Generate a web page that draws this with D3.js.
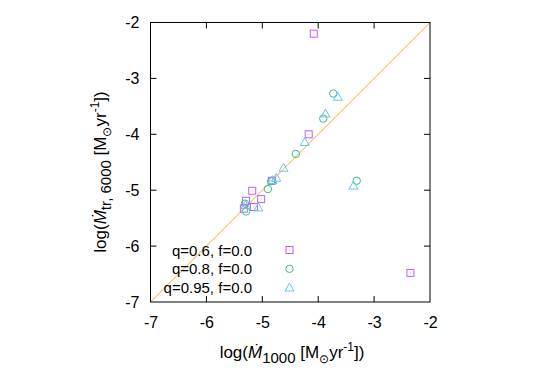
<!DOCTYPE html>
<html><head><meta charset="utf-8">
<script src="https://cdn.jsdelivr.net/npm/d3@7"></script>
<style>body{margin:0;background:#fff}svg{display:block}text{font-family:"Liberation Sans",Arial,sans-serif}</style>
</head><body><svg id="c" width="545" height="382"></svg>
<script>
const xTicks = [-7, -6, -5, -4, -3, -2];
const yTicks = [-7, -6, -5, -4, -3, -2];
const seriesLabels = ["q=0.6, f=0.0", "q=0.8, f=0.0", "q=0.95, f=0.0"];
const q06x = [-4.08, -4.17, -4.83, -5.18, -5.02, -5.29, -5.15, -5.33, -2.35];
const q06y = [-2.20, -4.00, -4.83, -5.01, -5.16, -5.19, -5.30, -5.33, -6.48];
const q08x = [-3.73, -3.91, -4.40, -4.90, -4.84, -3.31, -5.31, -5.29];
const q08y = [-3.27, -3.72, -4.35, -4.98, -4.84, -4.83, -5.24, -5.38];
const q095x = [-3.65, -3.87, -4.24, -4.62, -4.75, -4.82, -3.37, -5.07, -5.30];
const q095y = [-3.33, -3.63, -4.14, -4.60, -4.78, -4.82, -4.92, -5.31, -5.27];

const svg = d3.select("#c");
const L = 150.5, R = 430, T = 22.5, B = 302;
const x = d3.scaleLinear().domain([-7, -2]).range([L, R]);
const y = d3.scaleLinear().domain([-7, -2]).range([B, T]);
const fmt = d => (d < 0 ? "-" : "") + Math.abs(d);

const tl = 6;
const bx = d3.axisBottom(x).tickValues(xTicks).tickSize(0).tickPadding(15).tickFormat(fmt);
const gx = svg.append("g").attr("transform", `translate(0,${B})`).call(bx);
gx.select(".domain").remove();
gx.selectAll("text").attr("font-size", 16).attr("fill", "#000");
const ly = d3.axisLeft(y).tickValues(yTicks).tickSize(0).tickPadding(11).tickFormat(fmt);
const gy = svg.append("g").attr("transform", `translate(${L},0)`).call(ly);
gy.select(".domain").remove();
gy.selectAll("text").attr("font-size", 16).attr("fill", "#000");

const tk = svg.append("g").attr("stroke", "#000").attr("stroke-width", 1);
xTicks.slice(1, -1).forEach(v => {
  tk.append("line").attr("x1", x(v)).attr("x2", x(v)).attr("y1", B).attr("y2", B - tl);
  tk.append("line").attr("x1", x(v)).attr("x2", x(v)).attr("y1", T).attr("y2", T + tl);
});
yTicks.slice(1, -1).forEach(v => {
  tk.append("line").attr("y1", y(v)).attr("y2", y(v)).attr("x1", L).attr("x2", L + tl);
  tk.append("line").attr("y1", y(v)).attr("y2", y(v)).attr("x1", R).attr("x2", R - tl);
});

svg.append("line").attr("x1", x(-7)).attr("y1", y(-7)).attr("x2", x(-2)).attr("y2", y(-2))
  .attr("stroke", "#f4aa22").attr("stroke-width", 1);

const colors = ["#c05ff0", "#35bf8f", "#66c3f0"];
const sq = 7, cr = 3.7;
function square(g, cx, cy, c) {
  g.append("rect").attr("x", cx - sq / 2).attr("y", cy - sq / 2).attr("width", sq).attr("height", sq)
    .attr("fill", "none").attr("stroke", c).attr("stroke-width", 1);
  g.append("rect").attr("x", cx - 0.5).attr("y", cy - 0.5).attr("width", 1).attr("height", 1).attr("fill", c).attr("opacity", 0.6);
}
function circle(g, cx, cy, c) {
  g.append("circle").attr("cx", cx).attr("cy", cy).attr("r", cr).attr("fill", "none").attr("stroke", c).attr("stroke-width", 1);
}
function tri(g, cx, cy, c) {
  const h = 4.5;
  g.append("path").attr("d", `M${cx},${cy - h}L${cx + h},${cy + h * 0.75}L${cx - h},${cy + h * 0.75}Z`)
    .attr("fill", "none").attr("stroke", c).attr("stroke-width", 1);
}
const pts = svg.append("g");
q06x.forEach((v, i) => square(pts, x(v), y(q06y[i]), colors[0]));
q08x.forEach((v, i) => circle(pts, x(v), y(q08y[i]), colors[1]));
q095x.forEach((v, i) => tri(pts, x(v), y(q095y[i]), colors[2]));

const draws = [square, circle, tri];
seriesLabels.forEach((s, i) => {
  const yy = 250 + i * 18.8;
  svg.append("text").attr("x", 252).attr("y", yy + 5.5).attr("text-anchor", "end").attr("font-size", 15).text(s);
  draws[i](svg, 289.5, yy, colors[i]);
});

svg.append("rect").attr("x", L).attr("y", T).attr("width", R - L).attr("height", B - T)
  .attr("fill", "none").attr("stroke", "#000").attr("stroke-width", 1);

function label(g, sub) {
  g.append("tspan").text("log(");
  g.append("tspan").attr("font-style", "italic").text("Ṁ");
  g.append("tspan").attr("font-size", 15).attr("dy", 5).text(sub);
  g.append("tspan").attr("dy", -5).text(" [M");
  g.append("tspan").attr("font-size", 12).attr("dy", 5).text("⊙");
  g.append("tspan").attr("dy", -5).text("yr");
  g.append("tspan").attr("font-size", 12).attr("dy", -7).text("-1");
  g.append("tspan").attr("dy", 7).text("])");
}
const xl = svg.append("text").attr("x", 292).attr("y", 358).attr("text-anchor", "middle").attr("font-size", 17);
label(xl, "1000");
const yl = svg.append("text").attr("transform", "translate(106,172) rotate(-90)").attr("text-anchor", "middle").attr("font-size", 17);
label(yl, "tr, 6000");
</script></body></html>
